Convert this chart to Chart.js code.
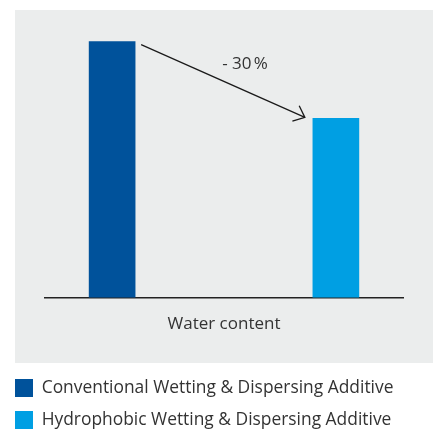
<!DOCTYPE html>
<html>
<head>
<meta charset="utf-8">
<script src="https://cdn.jsdelivr.net/npm/chart.js@4/dist/chart.umd.min.js"></script>
<style>
  html, body { margin: 0; padding: 0; background: #ffffff; overflow: hidden; }
  #wrap { position: relative; width: 433px; height: 439px; }
</style>
</head>
<body>
<div id="wrap"><canvas id="c"></canvas></div>
<script>
const categoryLabel = 'Water content';
const seriesNames = ['Conventional Wetting & Dispersing Additive', 'Hydrophobic Wetting & Dispersing Additive'];
const seriesPositions = [0, 1];
const seriesValues = [100, 70];
const seriesColors = ['#00529b', '#009fe3'];
const reductionLabel = '- 30\u202F%';

const FONT = '"Open Sans", "Noto Sans", sans-serif';
const TEXT = '#333333';

const bgPlugin = {
  id: 'bg',
  beforeDraw(chart) {
    const ctx = chart.ctx;
    const lg = chart.legend;
    const left = lg.left + lg.options.labels.padding;
    const top = 10;
    const bottom = lg.top - 2;
    ctx.save();
    ctx.fillStyle = '#ebeded';
    ctx.fillRect(left, top, chart.width - left, bottom - top);
    ctx.restore();
  }
};

const arrowPlugin = {
  id: 'arrow',
  afterDatasetsDraw(chart) {
    const b1 = chart.getDatasetMeta(0).data[0];
    const b2 = chart.getDatasetMeta(1).data[0];
    if (!b1 || !b2) return;
    const x1 = b1.x + b1.width / 2 + 6, y1 = b1.y + 3;
    const x2 = b2.x - b2.width / 2 - 8, y2 = b2.y - 1;
    const ctx = chart.ctx;
    ctx.save();
    ctx.strokeStyle = '#1a1a1a';
    ctx.lineWidth = 1.3;
    ctx.beginPath();
    ctx.moveTo(x1, y1);
    ctx.lineTo(x2, y2);
    ctx.stroke();
    const ang = Math.atan2(y2 - y1, x2 - x1);
    const L = 13, spread = 0.7;
    ctx.beginPath();
    ctx.moveTo(x2 - L * Math.cos(ang - spread), y2 - L * Math.sin(ang - spread));
    ctx.lineTo(x2, y2);
    ctx.lineTo(x2 - L * Math.cos(ang + spread), y2 - L * Math.sin(ang + spread));
    ctx.stroke();
    const mx = (x1 + x2) / 2, my = (y1 + y2) / 2;
    ctx.fillStyle = TEXT;
    ctx.font = '17px ' + FONT;
    ctx.textAlign = 'center';
    ctx.textBaseline = 'middle';
    ctx.fillText(reductionLabel, mx + 22, my - 17);
    ctx.restore();
  }
};

new Chart(document.getElementById('c'), {
  type: 'bar',
  data: {
    datasets: seriesNames.map((name, i) => ({
      label: name,
      data: [{ x: seriesPositions[i], y: seriesValues[i] }],
      backgroundColor: seriesColors[i],
      borderWidth: 0,
      barThickness: 46,
      grouped: false
    }))
  },
  options: {
    responsive: true,
    maintainAspectRatio: false,
    animation: false,
    layout: { padding: { top: 16, left: 1, right: 30, bottom: 0 } },
    plugins: {
      tooltip: { enabled: false },
      legend: {
        position: 'bottom',
        align: 'start',
        labels: {
          boxWidth: 18,
          boxHeight: 18,
          padding: 14,
          color: TEXT,
          font: { family: FONT, size: 17.4 }
        }
      }
    },
    scales: {
      x: {
        type: 'linear',
        offset: false,
        min: -0.3,
        max: 1.3,
        ticks: { display: false },
        grid: { display: false },
        border: { display: true, color: '#222222', width: 1.5 },
        title: {
          display: true,
          text: categoryLabel,
          color: TEXT,
          font: { family: FONT, size: 17 },
          padding: { top: 8, bottom: 31 }
        }
      },
      y: {
        min: 0,
        max: 110,
        display: true,
        ticks: { display: false },
        grid: { display: false },
        border: { display: false },
        afterFit(s) { s.width = 44; }
      }
    }
  },
  plugins: [bgPlugin, arrowPlugin]
});
</script>
</body>
</html>
